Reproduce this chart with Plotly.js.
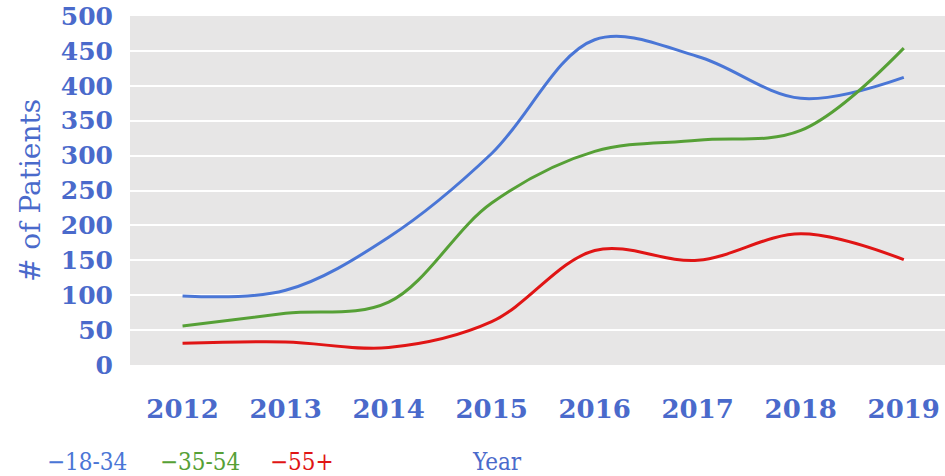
<!DOCTYPE html>
<html>
<head>
<meta charset="utf-8">
<script src="https://cdn.plot.ly/plotly-3.0.1.min.js"></script>
<style>html,body{margin:0;padding:0;background:#fff;}#chart{width:945px;height:476px;}</style>
</head>
<body>
<div id="chart"></div>
<script>
const years = [2012, 2013, 2014, 2015, 2016, 2017, 2018, 2019];
const seriesNames = ["18-34", "35-54", "55+"];
const age18to34 = [99, 107, 183, 303, 466, 442, 382, 412];
const age35to54 = [56, 74, 90, 232, 306, 322, 336, 454];
const age55plus = [31, 33, 25, 62, 164, 150, 188, 151];
const yTicks = [0, 50, 100, 150, 200, 250, 300, 350, 400, 450, 500];

const colors = ["#4a76d6", "#56a036", "#e01515"];
const textBlue = "#4a6acb";
const allSeries = [age18to34, age35to54, age55plus];

const traces = allSeries.map((vals, i) => ({
  x: years, y: vals, name: seriesNames[i], type: "scatter", mode: "lines",
  line: {color: colors[i], width: 3, shape: "spline", smoothing: 1},
  showlegend: false, hoverinfo: "x+y+name"
}));

const legendX = [87, 200, 302];
const annotations = seriesNames.map((n, i) => ({
  xref: "paper", yref: "paper", x: (legendX[i] - 130) / 815, y: (365 - 462) / 349,
  xanchor: "center", yanchor: "middle", showarrow: false,
  text: "\u2212" + n,
  font: {family: "DejaVu Serif Condensed, DejaVu Serif", size: 24, color: colors[i]}
}));
annotations.push({
  xref: "paper", yref: "paper", x: (497 - 130) / 815, y: (365 - 462) / 349,
  xanchor: "center", yanchor: "middle", showarrow: false, text: "Year",
  font: {family: "DejaVu Serif Condensed, DejaVu Serif", size: 24, color: textBlue}
});

const layout = {
  width: 945, height: 476,
  margin: {l: 130, r: 0, t: 16, b: 111},
  paper_bgcolor: "#ffffff",
  plot_bgcolor: "#e7e6e6",
  font: {family: "DejaVu Serif", color: textBlue, size: 24},
  xaxis: {
    range: [2011.49, 2019.4], tickvals: years, ticktext: years.map(String),
    showgrid: false, zeroline: false, showline: false, ticks: "",
    ticklabelstandoff: 26,
    tickfont: {family: "DejaVu Serif", size: 26, color: textBlue, weight: 600}
  },
  yaxis: {
    range: [0, 500], tickvals: yTicks, showgrid: true, gridcolor: "#ffffff", gridwidth: 2,
    zeroline: false, showline: false, ticks: "", ticklabelstandoff: 16,
    tickfont: {family: "DejaVu Serif", size: 25, color: textBlue, weight: 600},
    title: {text: "# of Patients", standoff: 12, font: {family: "DejaVu Serif", size: 28, color: textBlue}}
  },
  annotations: annotations,
  showlegend: false
};

Plotly.newPlot("chart", traces, layout, {displayModeBar: false, staticPlot: true});
</script>
</body>
</html>
